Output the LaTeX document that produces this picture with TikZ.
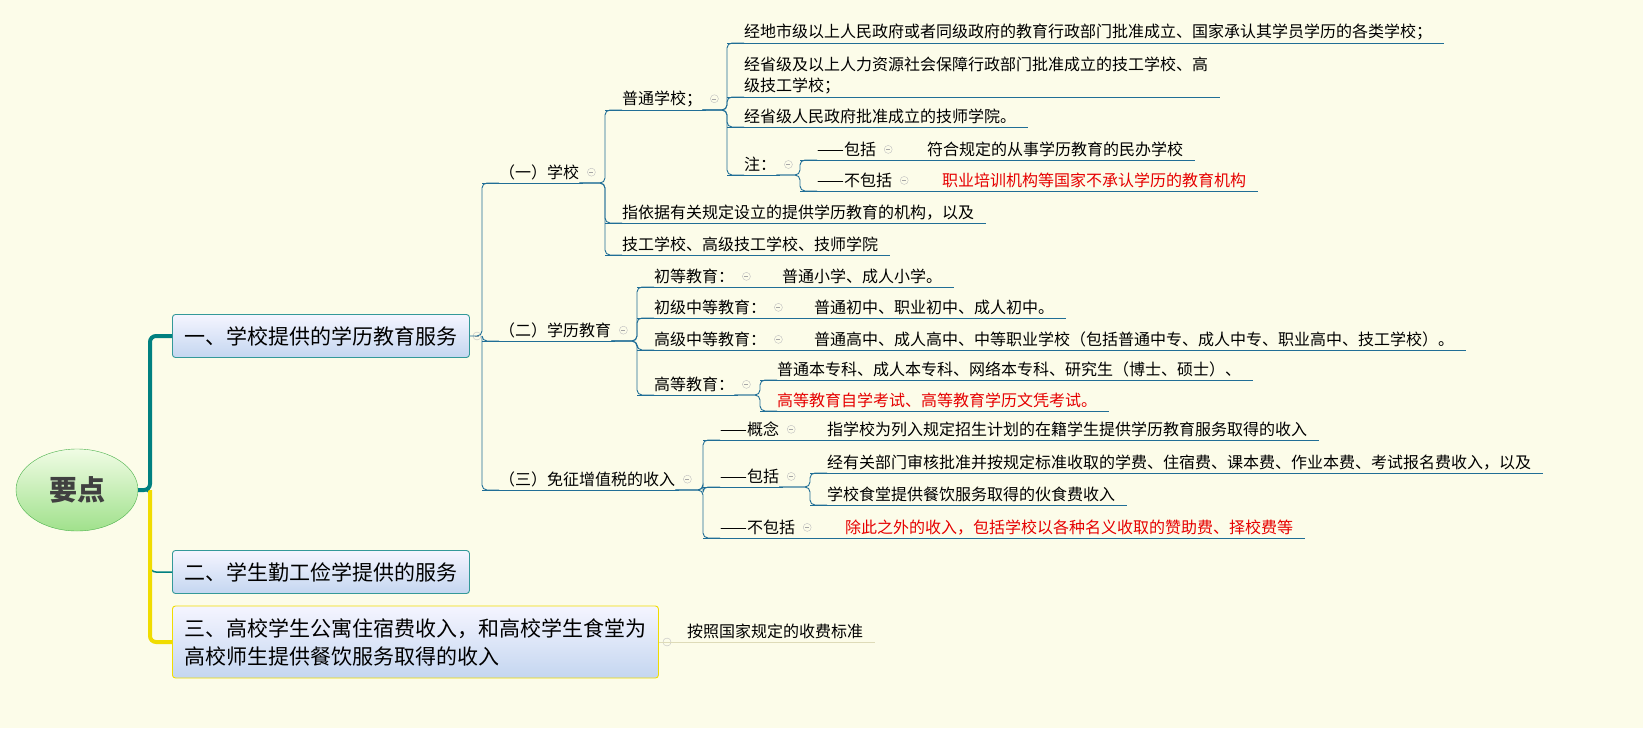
\documentclass[tikz,border=0pt]{standalone}
\usepackage{fontspec}
\setmainfont{Noto Sans CJK SC}
\usetikzlibrary{positioning,shapes,calc}
\definecolor{bgcol}{RGB}{252,252,233}
\definecolor{linkcol}{RGB}{32,110,150}
\definecolor{teal1}{RGB}{0,128,128}
\definecolor{yel1}{RGB}{240,220,0}
\definecolor{redtxt}{RGB}{230,0,0}
\tikzset{%
    leaf/.style={%
      anchor=south west, xshift=17pt, inner xsep=0pt, inner ysep=3pt, align=left,
      font=\fontsize{16}{21}\selectfont,
      append after command={([xshift=-17pt]\tikzlastnode.south west) edge[link] ([xshift=12pt]\tikzlastnode.south east)}
    },
    fold/.style={%
      anchor=south west, xshift=17pt, inner xsep=0pt, inner ysep=3pt,
      font=\fontsize{16}{21}\selectfont,
      append after command={([xshift=-17pt]\tikzlastnode.south west) edge[link] ([xshift=4pt]\tikzlastnode.south east)
        node[foldmark] at ([xshift=12pt]\tikzlastnode.east) {}}
    },
    foldmark/.style={%
      circle, draw=gray!50, fill=bgcol, minimum size=8pt, inner sep=0pt,
      path picture={\draw[gray!70] ([xshift=-2pt]path picture bounding box.center) -- ([xshift=2pt]path picture bounding box.center);}
    },
    link/.style={%
      draw=linkcol, line width=0.9pt, rounded corners=5pt
    },
    box/.style={%
      draw=teal1!80, rounded corners=3pt, line width=0.9pt, top color=blue!4, bottom color={rgb,255:red,196;green,214;blue,240},
      anchor=west, inner xsep=12pt, minimum height=43pt, align=left, font=\fontsize{21}{28}\selectfont
    },
    red/.style={%
      text=redtxt
    },
}
\begin{document}
\begin{tikzpicture}[x=1pt,y=-1pt]
    \fill[bgcol] (0,0) rectangle (1643,728);
    \useasboundingbox (0,0) rectangle (1643,728);

    % root and main branches
    \node[ellipse, draw=gray!60!green, top color={rgb,255:red,240;green,252;blue,228}, bottom color={rgb,255:red,160;green,225;blue,140},
      minimum width=122pt, minimum height=82pt, font=\fontsize{28}{30}\selectfont\bfseries, text=black!75] (root) at (77,490) {要点};
    \node[box] (edu) at (172,336) {一、学校提供的学历教育服务};
    \node[box] (work) at (172,572) {二、学生勤工俭学提供的服务};
    \node[box, draw=yel1, minimum height=72pt] (dorm) at (172,642) {三、高校学生公寓住宿费收入，和高校学生食堂为\\高校师生提供餐饮服务取得的收入};
    \node[foldmark] at (477,336) {};
    \node[foldmark] at (667,642) {};

    \draw[teal1, line width=1.5pt, rounded corners=6pt] (root.east) -- (150,490) |- (work.west);
    \draw[yel1, line width=4pt, rounded corners=6pt] (150,490) |- (dorm.west);
    \draw[teal1, line width=4pt, rounded corners=6pt] (root.east) -- (150,490) |- (edu.west);

    \coordinate (v1) at (482,0);
    \coordinate (v2) at (605,0);
    \coordinate (v3) at (727,0);
    \coordinate (v4) at (800,0);
    \coordinate (v5) at (637,0);
    \coordinate (v6) at (703,0);

    % (一) 学校
    \node[fold] (school) at (482,183) {（一）学校};
    \node[fold] (normal) at (605,110) {普通学校；};
    \node[leaf] (b1) at (727,43) {经地市级以上人民政府或者同级政府的教育行政部门批准成立、国家承认其学员学历的各类学校；};
    \node[leaf] (b2) at (727,97) {经省级及以上人力资源社会保障行政部门批准成立的技工学校、高\\级技工学校；};
    \node[leaf] (b3) at (727,127) {经省级人民政府批准成立的技师学院。};
    \node[fold] (note) at (727,175) {注：};
    \node[fold] (inc) at (800,160) {——包括};
    \node[leaf] (incx) at (910,160) {符合规定的从事学历教育的民办学校};
    \node[fold] (exc) at (800,191) {——不包括};
    \node[leaf, red] (excx) at (925,191) {职业培训机构等国家不承认学历的教育机构};
    \node[leaf] (inst) at (605,223) {指依据有关规定设立的提供学历教育的机构，以及};
    \node[leaf] (tech) at (605,255) {技工学校、高级技工学校、技师学院};

    % (二) 学历教育
    \node[fold] (degree) at (482,341) {（二）学历教育};
    \node[fold] (prim) at (637,287) {初等教育：};
    \node[leaf] (primx) at (765,287) {普通小学、成人小学。};
    \node[fold] (junior) at (637,318) {初级中等教育：};
    \node[leaf] (juniorx) at (797,318) {普通初中、职业初中、成人初中。};
    \node[fold] (senior) at (637,350) {高级中等教育：};
    \node[leaf] (seniorx) at (797,350) {普通高中、成人高中、中等职业学校（包括普通中专、成人中专、职业高中、技工学校）。};
    \node[fold] (higher) at (637,395) {高等教育：};
    \node[leaf] (higherx) at (760,380) {普通本专科、成人本专科、网络本专科、研究生（博士、硕士）、};
    \node[leaf, red] (highery) at (760,411) {高等教育自学考试、高等教育学历文凭考试。};

    % (三) 免征增值税的收入
    \node[fold] (exempt) at (482,490) {（三）免征增值税的收入};
    \node[fold] (concept) at (703,440) {——概念};
    \node[leaf] (conceptx) at (810,440) {指学校为列入规定招生计划的在籍学生提供学历教育服务取得的收入};
    \node[fold] (cover) at (703,487) {——包括};
    \node[leaf] (coverx) at (810,473) {经有关部门审核批准并按规定标准收取的学费、住宿费、课本费、作业本费、考试报名费收入，以及};
    \node[leaf] (covery) at (810,505) {学校食堂提供餐饮服务取得的伙食费收入};
    \node[fold] (nocover) at (703,538) {——不包括};
    \node[leaf, red] (nocoverx) at (828,538) {除此之外的收入，包括学校以各种名义收取的赞助费、择校费等};

    \node[leaf, append after command={([xshift=-17pt]\tikzlastnode.south west) edge[draw=yel1!40!gray!40, line width=0.9pt] ([xshift=12pt]\tikzlastnode.south east)}] (fee) at (670,642) {按照国家规定的收费标准};

    % connectors
    \draw[link] (edu.east) -- (edu.east -| v1) |- (school.south west);
    \draw[link] (edu.east -| v1) |- (degree.south west);
    \draw[link] (edu.east -| v1) |- (exempt.south west);
    \foreach \c in {normal, inst, tech}
      \draw[link] (school.south east) -- (school.south east -| v2) |- (\c.south west);
    \foreach \c in {b1, b2, b3, note}
      \draw[link] (normal.south east) -- (normal.south east -| v3) |- (\c.south west);
    \foreach \c in {inc, exc}
      \draw[link] (note.south east) -- (note.south east -| v4) |- (\c.south west);
    \draw[link] (inc.south east) -- (incx.south west);
    \draw[link] (exc.south east) -- (excx.south west);
    \foreach \c in {prim, junior, senior, higher}
      \draw[link] (degree.south east) -- (degree.south east -| v5) |- (\c.south west);
    \draw[link] (prim.south east) -- (primx.south west);
    \draw[link] (junior.south east) -- (juniorx.south west);
    \draw[link] (senior.south east) -- (seniorx.south west);
    \foreach \c in {higherx, highery}
      \draw[link] (higher.south east) -- ([xshift=-17pt]higherx.south west |- higher.south east) |- (\c.south west);
    \foreach \c in {concept, cover, nocover}
      \draw[link] (exempt.south east) -- (exempt.south east -| v6) |- (\c.south west);
    \draw[link] (concept.south east) -- (conceptx.south west);
    \foreach \c in {coverx, covery}
      \draw[link] (cover.south east) -- ([xshift=-17pt]coverx.south west |- cover.south east) |- (\c.south west);
    \draw[link] (nocover.south east) -- (nocoverx.south west);
    \draw[draw=yel1!40!gray!40, line width=0.9pt] (dorm.east) -- (fee.south west);
\end{tikzpicture}
\end{document}
